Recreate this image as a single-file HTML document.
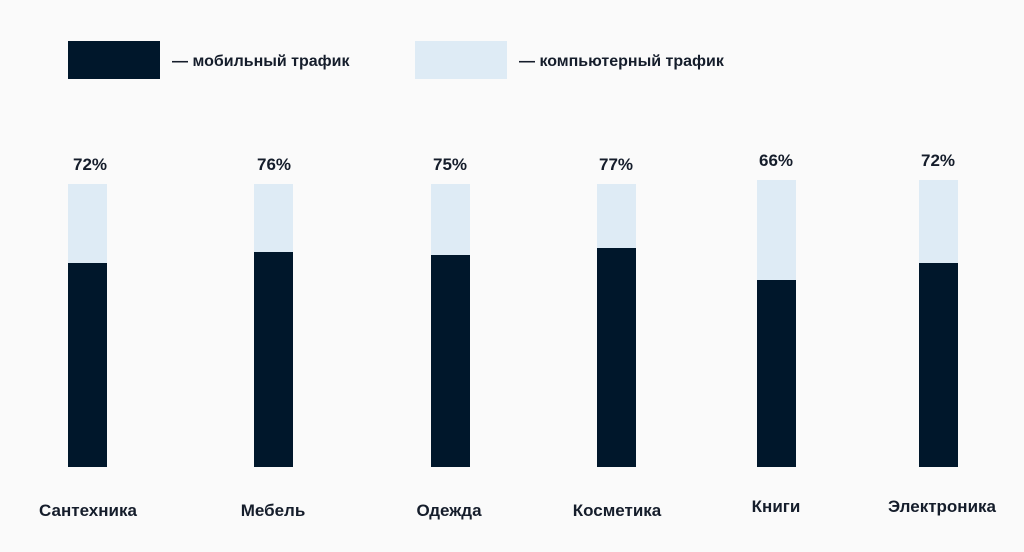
<!DOCTYPE html>
<html><head><meta charset="utf-8"><style>
body{margin:0;width:1024px;height:552px;background:#fafafa;position:relative;overflow:hidden;font-family:"Liberation Sans",sans-serif;color:#151d2b}
.a{position:absolute}
.l{background:#deebf5}
.d{background:#00172b}
.p{position:absolute;font-size:17px;font-weight:bold;width:80px;text-align:center}
.c{position:absolute;font-size:17px;font-weight:bold;width:200px;text-align:center;top:501px;line-height:20px}
.lg{position:absolute;font-size:16px;font-weight:bold;top:52px;line-height:20px}
</style></head><body>
<div class="a d" style="left:68px;top:41px;width:92px;height:38px"></div>
<div class="lg" style="left:172px">— мобильный трафик</div>
<div class="a l" style="left:415px;top:41px;width:92px;height:38px"></div>
<div class="lg" style="left:519px">— компьютерный трафик</div>

<div class="a l" style="left:68px;top:184px;width:39px;height:79px"></div><div class="a d" style="left:68px;top:263px;width:39px;height:204px"></div>
<div class="p" style="left:50px;top:155px">72%</div><div class="c" style="left:-12px">Сантехника</div>

<div class="a l" style="left:254px;top:184px;width:39px;height:68px"></div><div class="a d" style="left:254px;top:252px;width:39px;height:215px"></div>
<div class="p" style="left:234px;top:155px">76%</div><div class="c" style="left:173px">Мебель</div>

<div class="a l" style="left:431px;top:184px;width:39px;height:71px"></div><div class="a d" style="left:431px;top:255px;width:39px;height:212px"></div>
<div class="p" style="left:410px;top:155px">75%</div><div class="c" style="left:349px">Одежда</div>

<div class="a l" style="left:597px;top:184px;width:39px;height:64px"></div><div class="a d" style="left:597px;top:248px;width:39px;height:219px"></div>
<div class="p" style="left:576px;top:155px">77%</div><div class="c" style="left:517px">Косметика</div>

<div class="a l" style="left:757px;top:180px;width:39px;height:100px"></div><div class="a d" style="left:757px;top:280px;width:39px;height:187px"></div>
<div class="p" style="left:736px;top:151px">66%</div><div class="c" style="left:676px;top:497px">Книги</div>

<div class="a l" style="left:919px;top:180px;width:39px;height:83px"></div><div class="a d" style="left:919px;top:263px;width:39px;height:204px"></div>
<div class="p" style="left:898px;top:151px">72%</div><div class="c" style="left:842px;top:497px">Электроника</div>
</body></html>
